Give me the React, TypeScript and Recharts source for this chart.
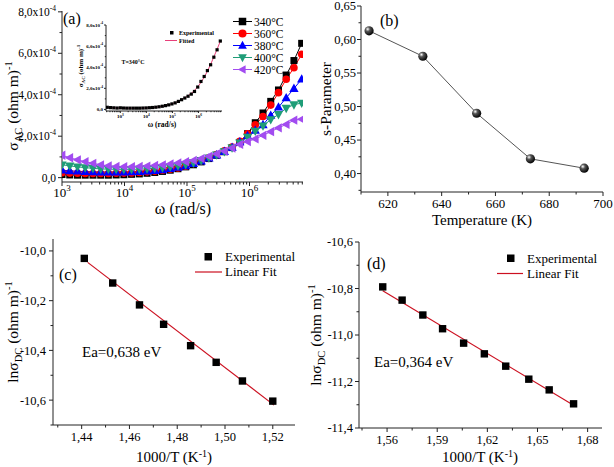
import React from 'react';
import { ComposedChart, Line, Scatter, XAxis, YAxis } from 'recharts';

const FONT = '"Liberation Serif", "Times New Roman", Times, serif';
const AX = '#222';

// ---------- Panel (a): sigma_AC vs omega (values in 1e-4 (ohm m)^-1) ----------
const omega = [1000, 1330, 1770, 2350, 3130, 4160, 5520, 7350, 9770, 12980, 17260, 22950, 30500, 40560, 53920, 71700, 95300, 126700, 168500, 224000, 297800, 396000, 526500, 700000, 930700, 1237000, 1645000, 2187000, 2909000, 3867000, 5142000, 6837000];
const sig340 = [0.15, 0.13, 0.12, 0.12, 0.12, 0.12, 0.12, 0.13, 0.14, 0.16, 0.18, 0.21, 0.25, 0.30, 0.36, 0.43, 0.52, 0.62, 0.76, 0.92, 1.08, 1.25, 1.45, 1.70, 2.12, 2.65, 3.12, 3.68, 4.23, 4.95, 5.65, 6.48];
const sig360 = [0.24, 0.22, 0.21, 0.20, 0.20, 0.20, 0.20, 0.21, 0.22, 0.23, 0.25, 0.28, 0.31, 0.36, 0.41, 0.47, 0.55, 0.68, 0.81, 0.96, 1.12, 1.29, 1.48, 1.75, 2.12, 2.55, 2.95, 3.50, 4.10, 4.75, 5.30, 5.95];
const sig380 = [0.36, 0.33, 0.31, 0.29, 0.28, 0.27, 0.27, 0.27, 0.27, 0.28, 0.29, 0.31, 0.34, 0.38, 0.43, 0.49, 0.57, 0.68, 0.80, 0.94, 1.09, 1.26, 1.46, 1.72, 2.02, 2.28, 2.55, 3.00, 3.40, 3.85, 4.30, 4.75];
const sig400 = [0.62, 0.57, 0.52, 0.48, 0.45, 0.42, 0.41, 0.40, 0.40, 0.40, 0.41, 0.43, 0.45, 0.48, 0.52, 0.57, 0.63, 0.72, 0.83, 0.96, 1.10, 1.26, 1.44, 1.68, 1.96, 2.25, 2.50, 2.80, 3.05, 3.35, 3.52, 3.60];
const sig420 = [1.08, 0.96, 0.86, 0.77, 0.69, 0.62, 0.57, 0.54, 0.53, 0.53, 0.54, 0.56, 0.59, 0.62, 0.66, 0.71, 0.77, 0.83, 0.92, 1.03, 1.15, 1.28, 1.43, 1.60, 1.74, 1.87, 2.04, 2.22, 2.40, 2.57, 2.77, 2.82];
const seriesNames = ['340°C', '360°C', '380°C', '400°C', '420°C'];
const seriesColors = ['#000000', '#ff0000', '#0000ff', '#1f9d78', '#a24cf0'];
const aXTicks = [1000, 2000, 3000, 4000, 5000, 6000, 7000, 8000, 9000, 10000, 20000, 30000, 40000, 50000, 60000, 70000, 80000, 90000, 100000, 200000, 300000, 400000, 500000, 600000, 700000, 800000, 900000, 1000000, 2000000, 3000000, 4000000, 5000000, 6000000, 7000000];
const aXMajors = [1000, 10000, 100000, 1000000];
const aYTicks = [0, 1, 2, 3, 4, 5, 6, 7, 8];
const aYMajors = [0, 2, 4, 6, 8];

// ---------- Inset: T = 340°C ----------
const insetOmega = [316, 422, 562, 750, 1000, 1330, 1770, 2350, 3130, 4160, 5520, 7350, 9770, 12980, 17260, 22950, 30500, 40560, 53920, 71700, 95300, 126700, 168500, 224000, 297800, 396000, 526500, 700000, 930700, 1237000, 1645000, 2187000, 2909000, 3867000, 5142000, 6837000];
const insetExp = [0.20, 0.17, 0.15, 0.13, 0.15, 0.13, 0.12, 0.12, 0.12, 0.12, 0.12, 0.13, 0.14, 0.16, 0.18, 0.21, 0.25, 0.30, 0.36, 0.43, 0.52, 0.62, 0.76, 0.92, 1.08, 1.25, 1.45, 1.70, 2.12, 2.65, 3.12, 3.68, 4.23, 4.95, 5.65, 6.48];
const insetFit = [0.19, 0.17, 0.15, 0.14, 0.13, 0.12, 0.12, 0.12, 0.12, 0.12, 0.12, 0.13, 0.14, 0.16, 0.18, 0.21, 0.25, 0.30, 0.36, 0.44, 0.53, 0.64, 0.77, 0.93, 1.10, 1.30, 1.52, 1.80, 2.14, 2.56, 3.05, 3.62, 4.27, 4.98, 5.70, 6.45];
const inXTicks = [300, 400, 500, 600, 700, 800, 900, 1000, 2000, 3000, 4000, 5000, 6000, 7000, 8000, 9000, 10000, 20000, 30000, 40000, 50000, 60000, 70000, 80000, 90000, 100000, 200000, 300000, 400000, 500000, 600000, 700000, 800000, 900000, 1000000, 2000000, 3000000, 4000000, 5000000, 6000000, 7000000];
const inXMajors = [1000, 10000, 100000, 1000000];

// ---------- Panel (b): s-parameter vs temperature ----------
const tempK = [613, 633, 653, 673, 693];
const sParam = [0.613, 0.575, 0.490, 0.422, 0.408];
const bXTicks = [610, 620, 630, 640, 650, 660, 670, 680, 690, 700];
const bXMajors = [620, 640, 660, 680, 700];
const bYTicks = [0.375, 0.4, 0.425, 0.45, 0.475, 0.5, 0.525, 0.55, 0.575, 0.6, 0.625, 0.65];
const bYMajors = [0.4, 0.45, 0.5, 0.55, 0.6, 0.65];

// ---------- Panel (c) ----------
const cInvT = [1.4411, 1.4530, 1.4642, 1.4743, 1.4856, 1.4963, 1.5073, 1.5200];
const cLnSig = [-10.030, -10.129, -10.217, -10.295, -10.381, -10.448, -10.523, -10.604];
const cFitX = [1.4425, 1.5205];
const cFitY = [-10.046, -10.620];
const cXTicks = [1.43, 1.44, 1.45, 1.46, 1.47, 1.48, 1.49, 1.5, 1.51, 1.52];
const cXMajors = [1.44, 1.46, 1.48, 1.5, 1.52];
const cYTicks = [-10.7, -10.6, -10.5, -10.4, -10.3, -10.2, -10.1, -10.0];
const cYMajors = [-10.6, -10.4, -10.2, -10.0];

// ---------- Panel (d) ----------
const dInvT = [1.5574, 1.5690, 1.5814, 1.5932, 1.6058, 1.6182, 1.6310, 1.6448, 1.6570, 1.6716];
const dLnSig = [-10.793, -10.850, -10.914, -10.973, -11.035, -11.081, -11.134, -11.190, -11.236, -11.296];
const dFitX = [1.5574, 1.6716];
const dFitY = [-10.81, -11.302];
const dXTicks = [1.545, 1.56, 1.575, 1.59, 1.605, 1.62, 1.635, 1.65, 1.665, 1.68];
const dXMajors = [1.56, 1.59, 1.62, 1.65, 1.68];
const dYTicks = [-11.4, -11.3, -11.2, -11.1, -11.0, -10.9, -10.8, -10.7, -10.6];
const dYMajors = [-11.4, -11.2, -11.0, -10.8, -10.6];

// ---------- helpers ----------
type Side = 'bottom' | 'top' | 'left' | 'right';
type TickOpts = { fs?: number; off?: number; len?: number; mlen?: number; bold?: boolean; color?: string };

function mkTick(side: Side, majors: number[], fmt: ((v: number) => React.ReactNode) | null, o: TickOpts = {}) {
  const { fs = 13, off = 14, len = 4, mlen = 2.5, bold = false, color = '#000' } = o;
  return (p: any) => {
    const v = Number(p.payload?.value);
    const x = Number(p.x);
    const y = Number(p.y);
    const isMajor = majors.some((m) => Math.abs(m - v) <= Math.abs(m) * 1e-6 + 1e-9);
    const L = isMajor ? len : mlen;
    let ln: React.ReactNode;
    if (side === 'bottom' || side === 'top') ln = <line x1={x} y1={y} x2={x} y2={y + L} />;
    else ln = <line x1={x - L} y1={y} x2={x} y2={y} />;
    let label: React.ReactNode = null;
    if (isMajor && fmt) {
      const common = { fontFamily: FONT, fontSize: fs, fill: color, fontWeight: bold ? 700 : 400 } as any;
      if (side === 'bottom') label = <text x={x} y={y + off} textAnchor="middle" {...common}>{fmt(v)}</text>;
      else if (side === 'left') label = <text x={x - off} y={y + fs * 0.35} textAnchor="end" {...common}>{fmt(v)}</text>;
    }
    return (
      <g>
        <g stroke={AX} strokeWidth={side === 'bottom' || side === 'left' ? 1 : 0.8}>{ln}</g>
        {label}
      </g>
    );
  };
}

const comma = (v: number, d: number) => v.toFixed(d).replace('.', ',');

const sciLabel = (sup: number, supFs: number) => (v: number) =>
  v === 0 ? (
    <tspan>0,0</tspan>
  ) : (
    <>
      <tspan>{`${comma(v, 1)}x10`}</tspan>
      <tspan dy={-sup} fontSize={supFs}>-4</tspan>
    </>
  );

const powLabel = (sup: number, supFs: number) => (v: number) => (
  <>
    <tspan>10</tspan>
    <tspan dy={-sup} fontSize={supFs}>{String(Math.round(Math.log10(v)))}</tspan>
  </>
);

function markerShape(kind: number, cx: number, cy: number, color: string, s: number, key?: any) {
  if (kind === 0) return <rect key={key} x={cx - s / 2} y={cy - s / 2} width={s} height={s} fill={color} />;
  if (kind === 1) return <circle key={key} cx={cx} cy={cy} r={s / 2 + 0.3} fill={color} />;
  if (kind === 2)
    return <polygon key={key} points={`${cx},${cy - s * 0.62} ${cx - s * 0.58},${cy + s * 0.42} ${cx + s * 0.58},${cy + s * 0.42}`} fill={color} />;
  if (kind === 3)
    return <polygon key={key} points={`${cx},${cy + s * 0.62} ${cx - s * 0.58},${cy - s * 0.42} ${cx + s * 0.58},${cy - s * 0.42}`} fill={color} />;
  return <polygon key={key} points={`${cx - s * 0.62},${cy} ${cx + s * 0.42},${cy - s * 0.58} ${cx + s * 0.42},${cy + s * 0.58}`} fill={color} />;
}

const axisLine = { stroke: AX, strokeWidth: 1 };

// ---------- Panel data tables ----------
const aData = omega.map((w, i) => ({ w, s0: sig340[i], s1: sig360[i], s2: sig380[i], s3: sig400[i], s4: sig420[i] }));
const insetData = insetOmega.map((w, i) => ({ w, e: insetExp[i], f: insetFit[i] }));
const bData = tempK.map((t, i) => ({ x: t, y: sParam[i] }));
const cExp = cInvT.map((x, i) => ({ x, y: cLnSig[i] }));
const cFit = cFitX.map((x, i) => ({ x, y: cFitY[i] }));
const dExp = dInvT.map((x, i) => ({ x, y: dLnSig[i] }));
const dFit = dFitX.map((x, i) => ({ x, y: dFitY[i] }));

function axes(cfg: {
  xTicks: number[]; xMajors: number[]; yTicks: number[]; yMajors: number[];
  xDomain: [number, number]; yDomain: [number, number]; log?: boolean;
  xFmt: ((v: number) => React.ReactNode) | null; yFmt: ((v: number) => React.ReactNode) | null;
  xOpts: TickOpts; yOpts: TickOpts; yWidth: number; xHeight: number; xKey: string;
}) {
  const common = { tickLine: false, tickSize: 0, tickMargin: 0, interval: 0 as any, allowDataOverflow: true };
  return [
    <XAxis key="xb" xAxisId="b" dataKey={cfg.xKey} type="number" scale={cfg.log ? 'log' : 'linear'} domain={cfg.xDomain}
      ticks={cfg.xTicks} height={cfg.xHeight} axisLine={axisLine} tick={mkTick('bottom', cfg.xMajors, cfg.xFmt, cfg.xOpts)} {...common} />,
    <XAxis key="xt" xAxisId="t" orientation="top" dataKey={cfg.xKey} type="number" scale={cfg.log ? 'log' : 'linear'} domain={cfg.xDomain}
      ticks={cfg.xTicks} height={0} axisLine={axisLine} tick={mkTick('top', cfg.xMajors, null, cfg.xOpts)} {...common} />,
    <YAxis key="yl" yAxisId="l" type="number" domain={cfg.yDomain} ticks={cfg.yTicks} width={cfg.yWidth}
      axisLine={axisLine} tick={mkTick('left', cfg.yMajors, cfg.yFmt, cfg.yOpts)} {...common} />,
    <YAxis key="yr" yAxisId="r" orientation="right" type="number" domain={cfg.yDomain} ticks={cfg.yTicks} width={0}
      axisLine={axisLine} tick={mkTick('right', cfg.yMajors, null, cfg.yOpts)} {...common} />,
  ];
}

const T = (p: any) => <text fontFamily={FONT} fill="#000" {...p} />;

function Overlay() {
  return (
    <svg width={614} height={467} style={{ position: 'absolute', left: 0, top: 0, pointerEvents: 'none' }}>
      <defs>
        <radialGradient id="sphere" cx="0.35" cy="0.32" r="0.7">
          <stop offset="0" stopColor="#ffffff" />
          <stop offset="0.35" stopColor="#555555" />
          <stop offset="1" stopColor="#000000" />
        </radialGradient>
      </defs>
      {/* Panel (a) */}
      <T x={63} y={24} fontSize={16}>(a)</T>
      <T transform="rotate(-90 13 106)" x={13} y={106 + 5} fontSize={15.5} textAnchor="middle">
        <tspan>σ</tspan><tspan dy={4} fontSize={10.5}>AC</tspan><tspan dy={-4}> (ohm m)</tspan><tspan dy={-6} fontSize={10.5}>-1</tspan>
      </T>
      <T x={183} y={214} fontSize={16} textAnchor="middle">ω (rad/s)</T>
      {seriesNames.map((n, i) => {
        const cy = 21.5 + i * 12;
        return (
          <g key={n}>
            <line x1={233} x2={252} y1={cy} y2={cy} stroke={seriesColors[i]} strokeWidth={1} />
            {markerShape(i, 242.5, cy, seriesColors[i], 7.5)}
            <T x={254} y={cy + 4} fontSize={11.5}>{n}</T>
          </g>
        );
      })}
      {/* Inset texts */}
      <T transform="rotate(-90 80 66)" x={80} y={66 + 2.5} fontSize={7} fontWeight={700} textAnchor="middle">
        <tspan>σ</tspan><tspan dy={2} fontSize={5}>AC</tspan><tspan dy={-2}> (ohm m)</tspan><tspan dy={-3} fontSize={5}>-1</tspan>
      </T>
      <T x={162} y={127} fontSize={7.5} fontWeight={700} textAnchor="middle">ω (rad/s)</T>
      <rect x={170} y={31} width={3.5} height={3.5} fill="#000" />
      <T x={179} y={35} fontSize={6} fontWeight={700}>Experimental</T>
      <line x1={165} x2={177} y1={40.5} y2={40.5} stroke="#e8407a" strokeWidth={1} />
      <T x={179} y={42.5} fontSize={6} fontWeight={700}>Fitted</T>
      <T x={133} y={64} fontSize={6} fontWeight={700} textAnchor="middle">T=340°C</T>

      {/* Panel (b) */}
      <T x={380} y={26} fontSize={16}>(b)</T>
      <T x={482} y={225} fontSize={15} textAnchor="middle">Temperature (K)</T>
      <T transform="rotate(-90 326 99)" x={326} y={99 + 5} fontSize={15.5} textAnchor="middle">s-Parameter</T>

      {/* Panel (c) */}
      <T x={59} y={280} fontSize={16}>(c)</T>
      <T x={82} y={357} fontSize={15}>Ea=0,638 eV</T>
      <rect x={204.5} y={253} width={7.5} height={7.5} fill="#000" />
      <T x={225} y={261} fontSize={13}>Experimental</T>
      <line x1={195} x2={222} y1={272} y2={272} stroke="#cc1020" strokeWidth={1.2} />
      <T x={225} y={276} fontSize={13}>Linear Fit</T>
      <T x={174} y={462} fontSize={15} textAnchor="middle">
        <tspan>1000/T (K</tspan><tspan dy={-5.5} fontSize={10}>-1</tspan><tspan dy={5.5}>)</tspan>
      </T>
      <T transform="rotate(-90 13 332)" x={13} y={332 + 5} fontSize={15.5} textAnchor="middle">
        <tspan>lnσ</tspan><tspan dy={4} fontSize={10.5}>DC</tspan><tspan dy={-4}> (ohm m)</tspan><tspan dy={-6} fontSize={10.5}>-1</tspan>
      </T>

      {/* Panel (d) */}
      <T x={367} y={269} fontSize={16}>(d)</T>
      <T x={374} y={367} fontSize={15}>Ea=0,364 eV</T>
      <rect x={507} y={254.5} width={7.5} height={7.5} fill="#000" />
      <T x={527} y={262.5} fontSize={13}>Experimental</T>
      <line x1={497} x2={523} y1={273.5} y2={273.5} stroke="#cc1020" strokeWidth={1.2} />
      <T x={527} y={277.5} fontSize={13}>Linear Fit</T>
      <T x={480} y={462} fontSize={15} textAnchor="middle">
        <tspan>1000/T (K</tspan><tspan dy={-5.5} fontSize={10}>-1</tspan><tspan dy={5.5}>)</tspan>
      </T>
      <T transform="rotate(-90 316 335)" x={316} y={335 + 5} fontSize={15.5} textAnchor="middle">
        <tspan>lnσ</tspan><tspan dy={4} fontSize={10.5}>DC</tspan><tspan dy={-4}> (ohm m)</tspan><tspan dy={-6} fontSize={10.5}>-1</tspan>
      </T>
    </svg>
  );
}

const box = (l: number, t: number, w: number, h: number): React.CSSProperties => ({ position: 'absolute', left: l, top: t, width: w, height: h });

export default function App() {
  const kinds = ['s0', 's1', 's2', 's3', 's4'];
  return (
    <div style={{ position: 'absolute', left: 0, top: 0, width: 614, height: 467, background: '#fff', fontFamily: FONT }}>
      {/* (a) */}
      <div style={box(0, 0, 310, 225)}>
        <ComposedChart width={310} height={225} data={aData} margin={{ top: 11, right: 7, left: 0, bottom: 0 }}>
          {axes({
            xKey: 'w', log: true, xTicks: aXTicks, xMajors: aXMajors, yTicks: aYTicks, yMajors: aYMajors,
            xDomain: [1000, 7180000], yDomain: [-0.21, 8.04],
            xFmt: powLabel(6, 9), yFmt: sciLabel(5, 7.5),
            xOpts: { fs: 13, off: 15 }, yOpts: { fs: 11.5, off: 6 }, yWidth: 62, xHeight: 43,
          })}
          {kinds.map((k, i) => (
            <Line key={k} xAxisId="b" yAxisId="l" dataKey={k} stroke={seriesColors[i]} strokeWidth={1}
              isAnimationActive={false}
              dot={(p: any) => markerShape(i, p.cx, p.cy, seriesColors[i], i >= 2 ? 8 : 7, `${k}-${p.index}`)} />
          ))}
        </ComposedChart>
      </div>
      {/* inset */}
      <div style={box(0, 0, 226, 132)}>
        <ComposedChart width={226} height={132} data={insetData} margin={{ top: 25, right: 4, left: 0, bottom: 0 }}>
          {axes({
            xKey: 'w', log: true, xTicks: inXTicks, xMajors: inXMajors, yTicks: aYTicks, yMajors: aYMajors,
            xDomain: [282, 7940000], yDomain: [-0.15, 8.0],
            xFmt: powLabel(2.5, 3.5), yFmt: sciLabel(2.5, 3.5),
            xOpts: { fs: 5, off: 7, len: 2, mlen: 1.2, bold: true }, yOpts: { fs: 5, off: 3, len: 2, mlen: 1.2, bold: true },
            yWidth: 106, xHeight: 21,
          })}
          <Line xAxisId="b" yAxisId="l" dataKey="e" stroke="none" isAnimationActive={false}
            dot={(p: any) => <rect key={`e-${p.index}`} x={p.cx - 1.6} y={p.cy - 1.6} width={3.2} height={3.2} fill="#000" />} />
          <Line xAxisId="b" yAxisId="l" dataKey="f" stroke="#e8407a" strokeWidth={1} dot={false} isAnimationActive={false} />
        </ComposedChart>
      </div>
      {/* (b) */}
      <div style={box(300, 0, 314, 230)}>
        <ComposedChart width={314} height={230} data={bData} margin={{ top: 6, right: 11, left: 0, bottom: 0 }}>
          {axes({
            xKey: 'x', xTicks: bXTicks, xMajors: bXMajors, yTicks: bYTicks, yMajors: bYMajors,
            xDomain: [610, 700], yDomain: [0.3725, 0.65],
            xFmt: (v) => String(v), yFmt: (v) => comma(v, 2),
            xOpts: { fs: 13, off: 16 }, yOpts: { fs: 12.5, off: 5 }, yWidth: 61, xHeight: 38,
          })}
          <Line xAxisId="b" yAxisId="l" dataKey="y" stroke="#555" strokeWidth={1} isAnimationActive={false}
            dot={(p: any) => <circle key={`b-${p.index}`} cx={p.cx} cy={p.cy} r={4.6} fill="url(#sphere)" />} />
        </ComposedChart>
      </div>
      {/* (c) */}
      <div style={box(0, 225, 310, 242)}>
        <ComposedChart width={310} height={242} margin={{ top: 14, right: 15, left: 0, bottom: 0 }}>
          {axes({
            xKey: 'x', xTicks: cXTicks, xMajors: cXMajors, yTicks: cYTicks, yMajors: cYMajors,
            xDomain: [1.428, 1.5293], yDomain: [-10.7, -9.952],
            xFmt: (v) => comma(v, 2), yFmt: (v) => comma(v, 1),
            xOpts: { fs: 12.5, off: 16 }, yOpts: { fs: 12.5, off: 7 }, yWidth: 53, xHeight: 42,
          })}
          <Line xAxisId="b" yAxisId="l" data={cFit} dataKey="y" stroke="#cc1020" strokeWidth={1.2} dot={false} isAnimationActive={false} />
          <Scatter xAxisId="b" yAxisId="l" data={cExp} dataKey="y" isAnimationActive={false}
            shape={(p: any) => <rect x={p.cx - 3.7} y={p.cy - 3.7} width={7.4} height={7.4} fill="#000" />} />
        </ComposedChart>
      </div>
      {/* (d) */}
      <div style={box(300, 225, 314, 242)}>
        <ComposedChart width={314} height={242} margin={{ top: 17, right: 12, left: 0, bottom: 0 }}>
          {axes({
            xKey: 'x', xTicks: dXTicks, xMajors: dXMajors, yTicks: dYTicks, yMajors: dYMajors,
            xDomain: [1.5432, 1.6886], yDomain: [-11.4, -10.6],
            xFmt: (v) => comma(v, 2), yFmt: (v) => comma(v, 1),
            xOpts: { fs: 12.5, off: 15.5 }, yOpts: { fs: 12.5, off: 6 }, yWidth: 59, xHeight: 39,
          })}
          <Line xAxisId="b" yAxisId="l" data={dFit} dataKey="y" stroke="#cc1020" strokeWidth={1.2} dot={false} isAnimationActive={false} />
          <Scatter xAxisId="b" yAxisId="l" data={dExp} dataKey="y" isAnimationActive={false}
            shape={(p: any) => <rect x={p.cx - 3.7} y={p.cy - 3.7} width={7.4} height={7.4} fill="#000" />} />
        </ComposedChart>
      </div>
      <Overlay />
    </div>
  );
}
